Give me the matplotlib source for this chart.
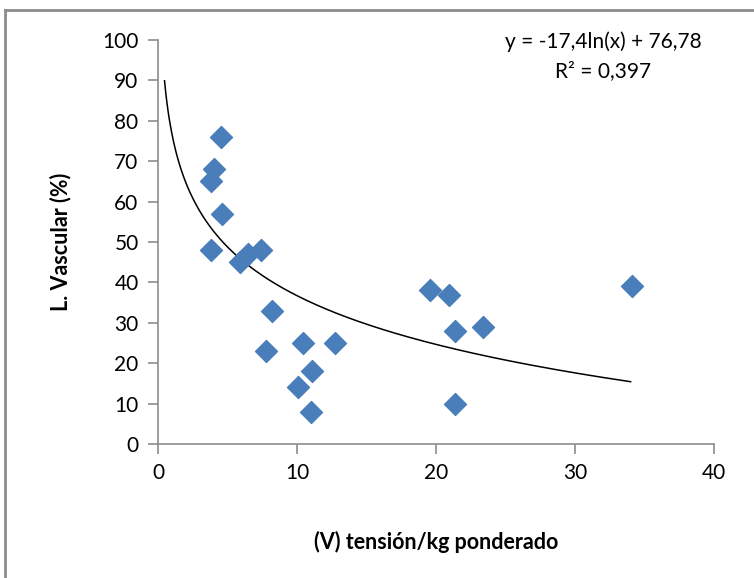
import numpy as np
import matplotlib
matplotlib.use("Agg")
import matplotlib.pyplot as plt
from matplotlib.lines import Line2D

x_vals = [4.5, 4.0, 3.8, 4.6, 3.8, 5.9, 6.5, 7.4, 8.2, 7.8, 10.4, 12.7, 11.1, 10.1, 11.0,
          19.6, 20.9, 21.4, 23.4, 21.4, 34.1]
y_vals = [76, 68, 65, 57, 48, 45, 47, 48, 33, 23, 25, 25, 18, 14, 8,
          38, 37, 28, 29, 10, 39]
coef_a = -17.4
coef_b = 76.78
trend_range = [0.47, 34.0]
x_ticks = [0, 10, 20, 30, 40]
y_ticks = [0, 10, 20, 30, 40, 50, 60, 70, 80, 90, 100]
eq_text = "y = -17,4ln(x) + 76,78"
r2_text = "R² = 0,397"
xlabel = "(V) tensión/kg ponderado"
ylabel = "L. Vascular (%)"

plt.rcParams['font.family'] = ['Lato', 'DejaVu Sans']

fig = plt.figure(figsize=(7.54, 5.78), dpi=100)
W, H = 754, 578
ax = fig.add_axes([158 / W, 1 - 444 / H, (714 - 158) / W, (444 - 40) / H])

ax.scatter(x_vals, y_vals, marker='D', s=125, color='#4a7ebb', edgecolors='#4a7ebb', zorder=3)
xt = np.linspace(trend_range[0], trend_range[1], 400)
ax.plot(xt, coef_a * np.log(xt) + coef_b, color='black', lw=1.1, zorder=2)

ax.set_xlim(0, 40)
ax.set_ylim(0, 100)
ax.set_xticks(x_ticks)
ax.set_yticks(y_ticks)
for s in ['top', 'right']:
    ax.spines[s].set_visible(False)
for s in ['left', 'bottom']:
    ax.spines[s].set_color('#8c8c8c')
    ax.spines[s].set_linewidth(1.2)
ax.tick_params(axis='both', direction='out', length=7, width=1.2, color='#8c8c8c',
               labelsize=15, labelcolor='black', pad=7)

ax.set_xlabel(xlabel, fontsize=15.5, fontweight='bold', labelpad=34)
ax.set_ylabel(ylabel, fontsize=15.5, fontweight='bold', labelpad=22)

fig.text(603 / W, 1 - 42 / H, eq_text, ha='center', va='center', fontsize=15)
fig.text(603 / W, 1 - 71 / H, r2_text, ha='center', va='center', fontsize=15)

# chart frame (top and left visible)
fig.add_artist(Line2D([5 / W, 5 / W], [0, 1 - 10 / H], transform=fig.transFigure, color='#8c8c8c', lw=2))
fig.add_artist(Line2D([5 / W, 1], [1 - 10 / H, 1 - 10 / H], transform=fig.transFigure, color='#8c8c8c', lw=2))

fig.savefig("out.png", dpi=100)
